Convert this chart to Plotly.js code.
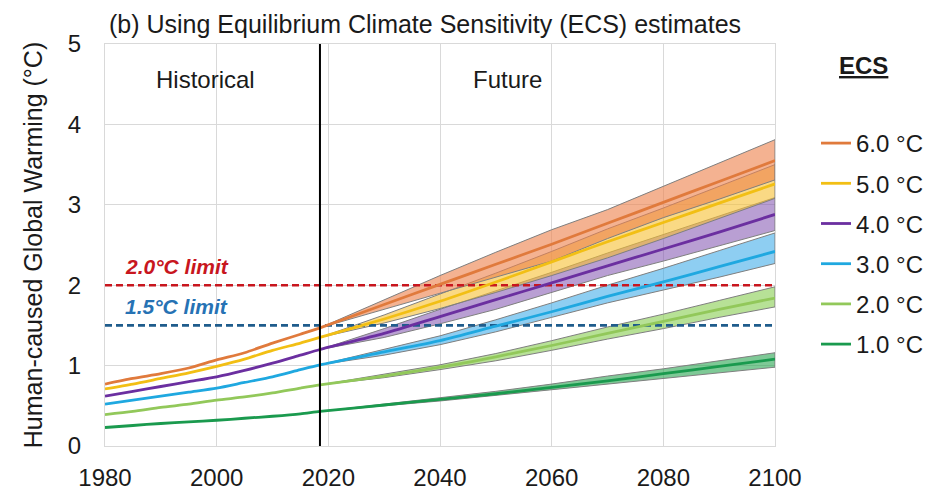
<!DOCTYPE html>
<html>
<head>
<meta charset="utf-8">
<script src="https://cdn.plot.ly/plotly-3.0.1.min.js"></script>
<style>
  html, body { margin: 0; padding: 0; background: #ffffff; }
  #chart { width: 952px; height: 502px; }
</style>
</head>
<body>
<div id="chart"></div>
<script>
// Observed period (ends at the vertical divider) and projection period
const histYears = [1980, 1985, 1990, 1995, 2000, 2005, 2010, 2015, 2018.5];
const futYears  = [2018.5, 2030, 2040, 2050, 2060, 2070, 2080, 2090, 2100];
const dividerYear = 2018.5;

const ecsLabels = ["6.0 °C", "5.0 °C", "4.0 °C", "3.0 °C", "2.0 °C", "1.0 °C"];

// Historical warming (°C) for each ECS value
const hist60 = [0.77, 0.84, 0.90, 0.97, 1.07, 1.16, 1.28, 1.39, 1.47];
const hist50 = [0.71, 0.77, 0.84, 0.91, 0.99, 1.08, 1.19, 1.28, 1.35];
const hist40 = [0.62, 0.68, 0.74, 0.80, 0.86, 0.94, 1.03, 1.13, 1.20];
const hist30 = [0.52, 0.57, 0.62, 0.67, 0.72, 0.79, 0.86, 0.95, 1.01];
const hist20 = [0.39, 0.43, 0.48, 0.52, 0.57, 0.61, 0.66, 0.72, 0.76];
const hist10 = [0.23, 0.255, 0.28, 0.30, 0.32, 0.345, 0.37, 0.40, 0.43];

// Projected warming: central estimate, upper and lower range
const fut60 = [1.47, 1.76, 2.01, 2.26, 2.51, 2.77, 3.03, 3.29, 3.55];
const up60  = [1.47, 1.82, 2.12, 2.41, 2.69, 2.94, 3.23, 3.52, 3.81];
const lo60  = [1.47, 1.70, 1.90, 2.10, 2.30, 2.58, 2.84, 3.07, 3.31];

const fut50 = [1.35, 1.58, 1.80, 2.04, 2.29, 2.54, 2.78, 3.02, 3.26];
const up50  = [1.35, 1.63, 1.89, 2.15, 2.42, 2.70, 2.96, 3.23, 3.50];
const lo50  = [1.35, 1.53, 1.71, 1.91, 2.12, 2.34, 2.58, 2.83, 3.08];

const fut40 = [1.20, 1.40, 1.61, 1.82, 2.03, 2.24, 2.45, 2.66, 2.88];
const up40  = [1.20, 1.46, 1.70, 1.93, 2.16, 2.40, 2.63, 2.86, 3.09];
const lo40  = [1.20, 1.35, 1.52, 1.70, 1.91, 2.12, 2.30, 2.49, 2.68];

const fut30 = [1.01, 1.17, 1.31, 1.49, 1.67, 1.86, 2.04, 2.23, 2.42];
const up30  = [1.01, 1.20, 1.37, 1.57, 1.78, 2.00, 2.21, 2.43, 2.65];
const lo30  = [1.01, 1.13, 1.26, 1.42, 1.60, 1.78, 1.94, 2.10, 2.27];

const fut20 = [0.76, 0.87, 0.98, 1.11, 1.25, 1.40, 1.55, 1.70, 1.84];
const up20  = [0.76, 0.89, 1.01, 1.15, 1.31, 1.48, 1.64, 1.81, 1.98];
const lo20  = [0.76, 0.85, 0.95, 1.06, 1.19, 1.33, 1.46, 1.60, 1.73];

const fut10 = [0.43, 0.51, 0.58, 0.65, 0.73, 0.81, 0.90, 0.99, 1.08];
const up10  = [0.43, 0.52, 0.60, 0.68, 0.77, 0.87, 0.96, 1.06, 1.16];
const lo10  = [0.43, 0.50, 0.56, 0.63, 0.70, 0.77, 0.84, 0.91, 0.98];

// Paris Agreement limits
const limitValues = [2.0, 1.5];
const limitLabels = ["2.0°C limit", "1.5°C limit"];

const xTicks = [1980, 2000, 2020, 2040, 2060, 2080, 2100];
const yTicks = [0, 1, 2, 3, 4, 5];

// ---- styling ----
const FONT = "Liberation Sans, Arial, sans-serif";
const lineColors = ["#E07A3C", "#F2BF14", "#6B2FA0", "#1FA8E0", "#92C85A", "#1A9A4E"];
const bandColors = [
  "rgba(238,130,78,0.62)",
  "rgba(247,192,50,0.60)",
  "rgba(128,80,175,0.55)",
  "rgba(50,165,232,0.55)",
  "rgba(135,205,80,0.60)",
  "rgba(40,165,80,0.60)"
];
const limitColors = ["#C8161E", "#1F5C8C"];
const labelColors = ["#C8161E", "#2672B4"];

const series = [
  { hist: hist60, fut: fut60, up: up60, lo: lo60 },
  { hist: hist50, fut: fut50, up: up50, lo: lo50 },
  { hist: hist40, fut: fut40, up: up40, lo: lo40 },
  { hist: hist30, fut: fut30, up: up30, lo: lo30 },
  { hist: hist20, fut: fut20, up: up20, lo: lo20 },
  { hist: hist10, fut: fut10, up: up10, lo: lo10 }
];

const traces = [];

// uncertainty ranges, drawn lowest ECS first so higher ones sit on top
for (let i = series.length - 1; i >= 0; i--) {
  const s = series[i];
  traces.push({
    x: futYears.concat(futYears.slice().reverse()),
    y: s.up.concat(s.lo.slice().reverse()),
    type: "scatter", mode: "lines", fill: "toself",
    fillcolor: bandColors[i],
    line: { color: "#7F7F7F", width: 1 },
    hoverinfo: "skip", showlegend: false
  });
}

// limit lines across the full period
limitValues.forEach((v, k) => {
  traces.push({
    x: [xTicks[0], xTicks[xTicks.length - 1]],
    y: [v, v],
    type: "scatter", mode: "lines",
    line: { color: limitColors[k], width: 2.6, dash: "7px,4px" },
    hoverinfo: "skip", showlegend: false
  });
});

// central estimates: historical + projection joined
series.forEach((s, i) => {
  traces.push({
    x: histYears.concat(futYears.slice(1)),
    y: s.hist.concat(s.fut.slice(1)),
    type: "scatter", mode: "lines",
    name: ecsLabels[i],
    legendgroup: "g" + i,
    line: { color: lineColors[i], width: 2.8, shape: "spline", smoothing: 0.7 },
    showlegend: true
  });
});

const annotations = [
  { text: "Historical", x: 1998, y: 4.56, xref: "x", yref: "y", showarrow: false,
    font: { family: FONT, size: 24, color: "#1a1a1a" } },
  { text: "Future", x: 2052, y: 4.56, xref: "x", yref: "y", showarrow: false,
    font: { family: FONT, size: 24, color: "#1a1a1a" } },
  // legend heading, placed in plot-fraction units to the right of the axes
  { text: "<b><u>ECS</u></b>", x: (863 - 105) / 670, y: (446 - 66) / 402,
    xref: "paper", yref: "paper", xanchor: "center", yanchor: "middle", showarrow: false,
    font: { family: FONT, size: 24, color: "#1a1a1a" } }
];

limitValues.forEach((v, k) => {
  annotations.push({
    text: "<b><i>" + limitLabels[k] + "</i></b>",
    x: 1983.3, y: v + 0.23, xref: "x", yref: "y",
    xanchor: "left", yanchor: "middle", showarrow: false,
    font: { family: FONT, size: 21, color: labelColors[k] }
  });
});

const layout = {
  width: 952, height: 502,
  margin: { l: 105, r: 177, t: 44, b: 56 },
  paper_bgcolor: "#ffffff", plot_bgcolor: "#ffffff",
  font: { family: FONT, color: "#1a1a1a" },
  title: {
    text: "(b) Using Equilibrium Climate Sensitivity (ECS) estimates",
    x: 109 / 952, xanchor: "left", xref: "container",
    y: 1 - 24 / 502, yanchor: "middle", yref: "container",
    font: { family: FONT, size: 25, color: "#1a1a1a" }
  },
  xaxis: {
    range: [1980, 2100], tickvals: xTicks, ticktext: xTicks.map(String),
    showgrid: true, gridcolor: "#D9D9D9", gridwidth: 1,
    showline: true, linecolor: "#D9D9D9", linewidth: 1, mirror: true,
    zeroline: false, ticks: "", ticklabelstandoff: 10,
    tickfont: { family: FONT, size: 24, color: "#1a1a1a" }
  },
  yaxis: {
    range: [0, 5], tickvals: yTicks,
    showgrid: true, gridcolor: "#D9D9D9", gridwidth: 1,
    showline: true, linecolor: "#D9D9D9", linewidth: 1, mirror: true,
    zeroline: false, ticks: "", ticklabelstandoff: 18,
    tickfont: { family: FONT, size: 24, color: "#1a1a1a" },
    title: { text: "Human-caused Global Warming (°C)", standoff: 18,
             font: { family: FONT, size: 25, color: "#1a1a1a" } }
  },
  legend: {
    x: (816 - 105) / 670, xanchor: "left",
    y: (446 - 121) / 402, yanchor: "top",
    font: { family: FONT, size: 24, color: "#1a1a1a" },
    tracegroupgap: 6, itemwidth: 30,
    bgcolor: "rgba(0,0,0,0)", borderwidth: 0
  },
  shapes: [
    { type: "line", xref: "x", yref: "y", x0: dividerYear, x1: dividerYear, y0: 0, y1: 5,
      line: { color: "#000000", width: 2 } }
  ],
  annotations: annotations,
  showlegend: true
};

Plotly.newPlot("chart", traces, layout, { staticPlot: true, displayModeBar: false });
</script>
</body>
</html>
